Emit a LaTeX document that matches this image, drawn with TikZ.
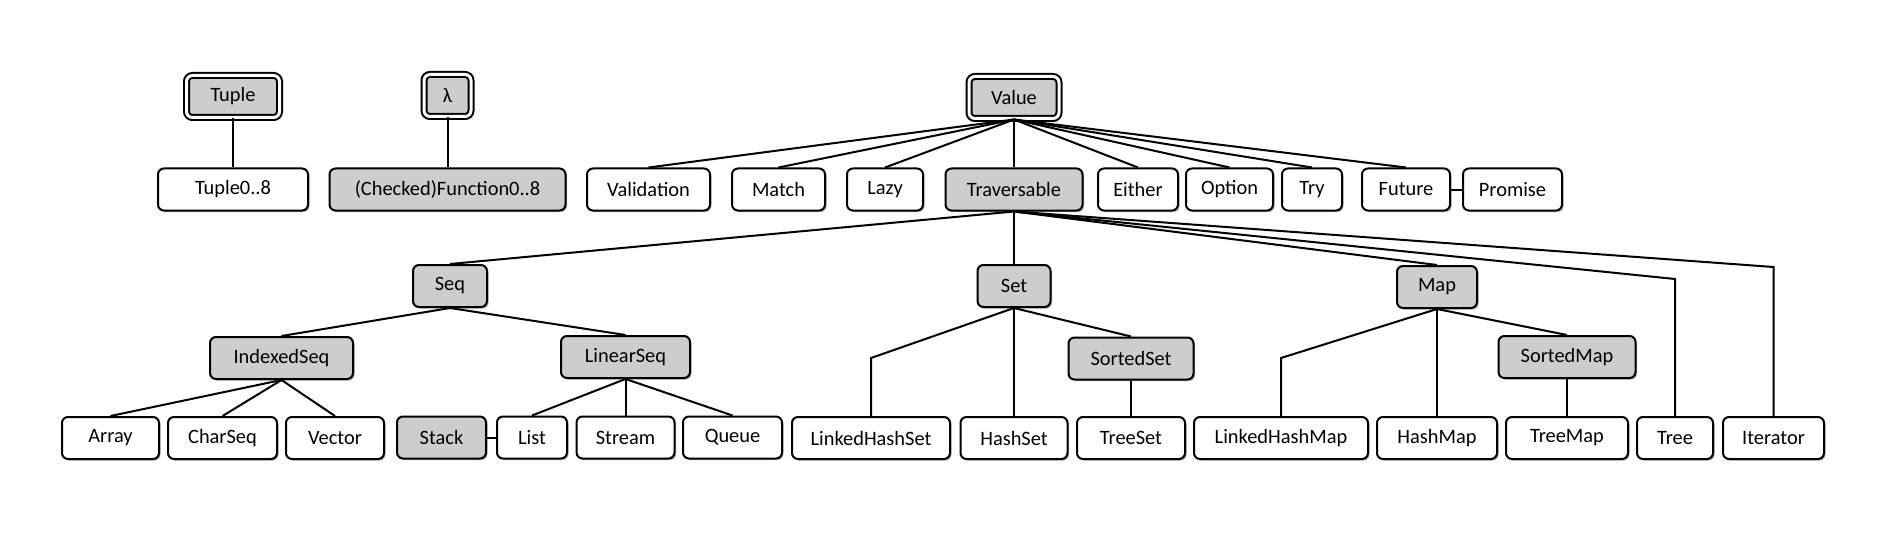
\documentclass[tikz,border=0pt]{standalone}
\usepackage{fontspec}
\setmainfont{Carlito}
\usetikzlibrary{shadows}
\definecolor{boxgray}{RGB}{205,205,205}
\begin{document}
\begin{tikzpicture}[x=0.5pt,y=-0.5pt,
  box/.style={draw, line width=1pt, rounded corners=3pt, fill=white, inner sep=0pt,
    minimum height=21pt, font=\fontsize{10.2}{12}\selectfont,
    drop shadow={shadow xshift=0.8pt, shadow yshift=-0.8pt, opacity=0.3, fill=black}},
  gbox/.style={box, fill=boxgray},
  dbox/.style={gbox, double, double distance=1.5pt},
  conn/.style={line width=1pt}]
\useasboundingbox (0,0) rectangle (1880,540);
% top
\node[dbox, minimum width=46.5pt] (nTuple) at (233,96.5) {Tuple};
\node[dbox, minimum width=23.5pt] (nLambda) at (447.5,95.5) {λ};
\node[dbox, minimum width=45pt] (nValue) at (1014,97.5) {Value};
% row 1
\node[box, minimum width=75pt] (nTuple08) at (233,189.5) {Tuple0..8};
\node[gbox, minimum width=118pt] (nFunc) at (447.5,189.5) {(Checked)Function0..8};
\node[box, minimum width=61.5pt] (nValidation) at (648.5,189.5) {Validation};
\node[box, minimum width=46.5pt] (nMatch) at (778.5,189.5) {Match};
\node[box, minimum width=38pt] (nLazy) at (885,189.5) {Lazy};
\node[gbox, minimum width=68.5pt] (nTrav) at (1014,189.5) {Traversable};
\node[box, minimum width=40pt] (nEither) at (1138,189.5) {Either};
\node[box, minimum width=43.5pt] (nOption) at (1229.5,189.5) {Option};
\node[box, minimum width=30pt] (nTry) at (1312,189.5) {Try};
\node[box, minimum width=44pt] (nFuture) at (1406,189.5) {Future};
\node[box, minimum width=49.5pt] (nPromise) at (1512.5,189.5) {Promise};
% row 2
\node[gbox, minimum width=37pt] (nSeq) at (450,286) {Seq};
\node[gbox, minimum width=36.5pt] (nSet) at (1014,286) {Set};
\node[gbox, minimum width=40pt] (nMap) at (1437,287) {Map};
% row 3
\node[gbox, minimum width=71.5pt] (nIdx) at (281.5,358) {IndexedSeq};
\node[gbox, minimum width=64.5pt] (nLin) at (625.5,357) {LinearSeq};
\node[gbox, minimum width=62.5pt] (nSSet) at (1131,358.5) {SortedSet};
\node[gbox, minimum width=68.5pt] (nSMap) at (1567,357) {SortedMap};
% row 4
\node[box, minimum width=48.5pt] (nArray) at (110.5,438) {Array};
\node[box, minimum width=54.5pt] (nChar) at (222.5,438) {CharSeq};
\node[box, minimum width=49pt] (nVector) at (335,438) {Vector};
\node[gbox, minimum width=44.5pt] (nStack) at (441.5,437.5) {Stack};
\node[box, minimum width=35pt] (nList) at (532,437.5) {List};
\node[box, minimum width=49pt] (nStream) at (625.5,437.5) {Stream};
\node[box, minimum width=49.5pt] (nQueue) at (732.5,437.5) {Queue};
\node[box, minimum width=79pt] (nLHS) at (871,438) {LinkedHashSet};
\node[box, minimum width=53.5pt] (nHashSet) at (1014,438) {HashSet};
\node[box, minimum width=54pt] (nTreeSet) at (1131,438) {TreeSet};
\node[box, minimum width=87pt] (nLHM) at (1281,438) {LinkedHashMap};
\node[box, minimum width=60pt] (nHashMap) at (1437,438) {HashMap};
\node[box, minimum width=61pt] (nTreeMap) at (1567,438) {TreeMap};
\node[box, minimum width=38pt] (nTree) at (1675,438) {Tree};
\node[box, minimum width=50.5pt] (nIter) at (1773.5,438) {Iterator};
% bends
\coordinate (bLHS) at (871,358);
\coordinate (bLHM) at (1281,358);
\coordinate (bTree) at (1675,279);
\coordinate (bIter) at (1773.5,267);
% connectors
\draw[conn] (nTuple.south) -- (nTuple08.north);
\draw[conn] (nLambda.south) -- (nFunc.north);
\foreach \c in {nValidation,nMatch,nLazy,nTrav,nEither,nOption,nTry,nFuture}
  \draw[conn] (nValue.south) -- (\c.north);
\draw[conn] (nFuture.east) -- (nPromise.west);
\draw[conn] (nTrav.south) -- (nSeq.north);
\draw[conn] (nTrav.south) -- (nSet.north);
\draw[conn] (nTrav.south) -- (nMap.north);
\draw[conn] (nTrav.south) -- (bTree) -- (nTree.north);
\draw[conn] (nTrav.south) -- (bIter) -- (nIter.north);
\draw[conn] (nSeq.south) -- (nIdx.north);
\draw[conn] (nSeq.south) -- (nLin.north);
\foreach \c in {nArray,nChar,nVector}
  \draw[conn] (nIdx.south) -- (\c.north);
\foreach \c in {nList,nStream,nQueue}
  \draw[conn] (nLin.south) -- (\c.north);
\draw[conn] (nStack.east) -- (nList.west);
\draw[conn] (nSet.south) -- (bLHS) -- (nLHS.north);
\draw[conn] (nSet.south) -- (nHashSet.north);
\draw[conn] (nSet.south) -- (nSSet.north);
\draw[conn] (nSSet.south) -- (nTreeSet.north);
\draw[conn] (nMap.south) -- (bLHM) -- (nLHM.north);
\draw[conn] (nMap.south) -- (nHashMap.north);
\draw[conn] (nMap.south) -- (nSMap.north);
\draw[conn] (nSMap.south) -- (nTreeMap.north);
\end{tikzpicture}
\end{document}
